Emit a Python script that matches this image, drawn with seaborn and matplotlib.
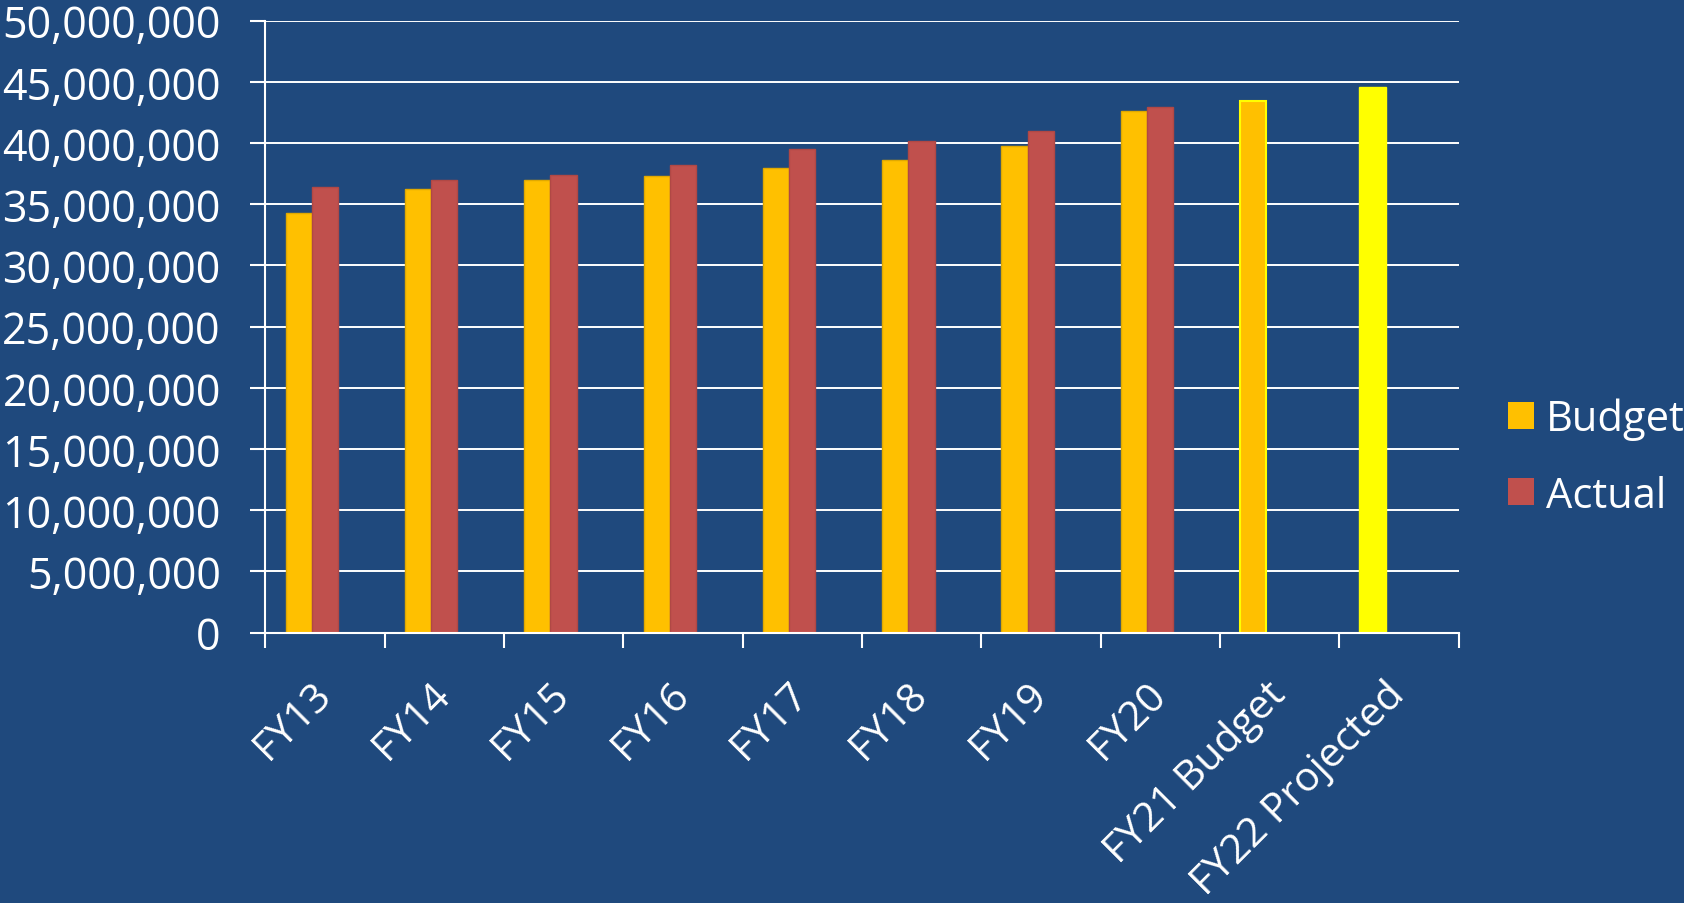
import numpy as np
import pandas as pd
import matplotlib
matplotlib.use("Agg")
import matplotlib.pyplot as plt
from matplotlib.patches import Patch
from matplotlib.ticker import FuncFormatter
import seaborn as sns

# Fiscal-year categories
years = ["FY13", "FY14", "FY15", "FY16", "FY17", "FY18", "FY19", "FY20",
         "FY21 Budget", "FY22 Projected"]

# Budgeted amounts (FY22 is the projected figure)
budget = [34_290_000, 36_220_000, 36_980_000, 37_310_000, 37_960_000,
          38_650_000, 39_770_000, 42_580_000, 43_400_000, 44_570_000]

# Actual amounts (none yet for FY21 / FY22)
actual = [36_410_000, 36_960_000, 37_370_000, 38_240_000, 39_530_000,
          40_160_000, 40_980_000, 42_970_000, np.nan, np.nan]

# Third (empty) series slot kept so each group has three positions
projected = [np.nan] * len(years)

series_names = ["Budget", "Actual", "Projected"]

BG = "#1F497D"
C_BUDGET = "#FFC000"
C_ACTUAL = "#C0504D"
C_PROJ = "#FFFF00"

df = pd.DataFrame({
    "year": years * 3,
    "series": [series_names[0]] * len(years) + [series_names[1]] * len(years)
              + [series_names[2]] * len(years),
    "value": budget + actual + projected,
})

sns.set_theme(style="white")
plt.rcParams["font.family"] = ["Open Sans", "DejaVu Sans"]

fig = plt.figure(figsize=(16.84, 9.04), dpi=100, facecolor=BG)
ax = fig.add_axes([0.1575, 0.299, 0.7086, 0.6771])
ax.set_facecolor(BG)

sns.barplot(data=df, x="year", y="value", hue="series",
            order=years, hue_order=series_names,
            palette=[C_BUDGET, C_ACTUAL, C_PROJ], saturation=1,
            width=0.66, errorbar=None, ax=ax, legend=False,
            zorder=3, linewidth=1)

# bar edges and the highlighted projection bar
for bar in ax.containers[0]:
    bar.set_edgecolor("#E0A800")
for bar in ax.containers[1]:
    bar.set_edgecolor("#B04845")
ax.containers[0][8].set_edgecolor(C_PROJ)
ax.containers[0][8].set_linewidth(1.5)
ax.containers[0][9].set_facecolor(C_PROJ)
ax.containers[0][9].set_edgecolor(C_PROJ)

ax.set_xlim(-0.5, len(years) - 0.5)
ax.set_ylim(0, 50_000_000)
ax.set_yticks(np.arange(0, 50_000_001, 5_000_000))
ax.yaxis.set_major_formatter(FuncFormatter(lambda v, p: f"{int(v):,}"))

# tick marks between categories, labels at category centres
ax.set_xticks(np.arange(-0.5, len(years), 1.0))
ax.set_xticklabels([])
ax.set_xticks(np.arange(len(years)), minor=True)
ax.set_xticklabels(years, minor=True, rotation=45, ha="right",
                   va="center", rotation_mode="anchor")
ax.tick_params(axis="x", which="major", length=11, width=1.5,
               color="white", direction="out", bottom=True)
ax.tick_params(axis="x", which="minor", length=0, pad=40,
               labelsize=29.5, labelcolor="white")
ax.tick_params(axis="y", length=11, width=1.5, color="white",
               direction="out", left=True, labelsize=31,
               labelcolor="white", pad=21)

ax.yaxis.grid(True, color="white", linewidth=1.4, zorder=0)
ax.set_axisbelow(True)
ax.set_xlabel("")
ax.set_ylabel("")
for side in ("top", "right"):
    ax.spines[side].set_visible(False)
for side in ("left", "bottom"):
    ax.spines[side].set_color("white")
    ax.spines[side].set_linewidth(1.5)
    ax.spines[side].set_zorder(4)

handles = [Patch(facecolor=C_BUDGET, edgecolor="none", label="Budget"),
           Patch(facecolor=C_ACTUAL, edgecolor="none", label="Actual")]
leg = fig.legend(handles=handles, loc="center left",
                 bbox_to_anchor=(0.8955, 0.493), frameon=False,
                 fontsize=30, labelcolor="white",
                 handlelength=0.62, handleheight=0.62,
                 handletextpad=0.3, labelspacing=0.82, borderpad=0,
                 borderaxespad=0)

fig.savefig("out.png", dpi=100, facecolor=BG)
